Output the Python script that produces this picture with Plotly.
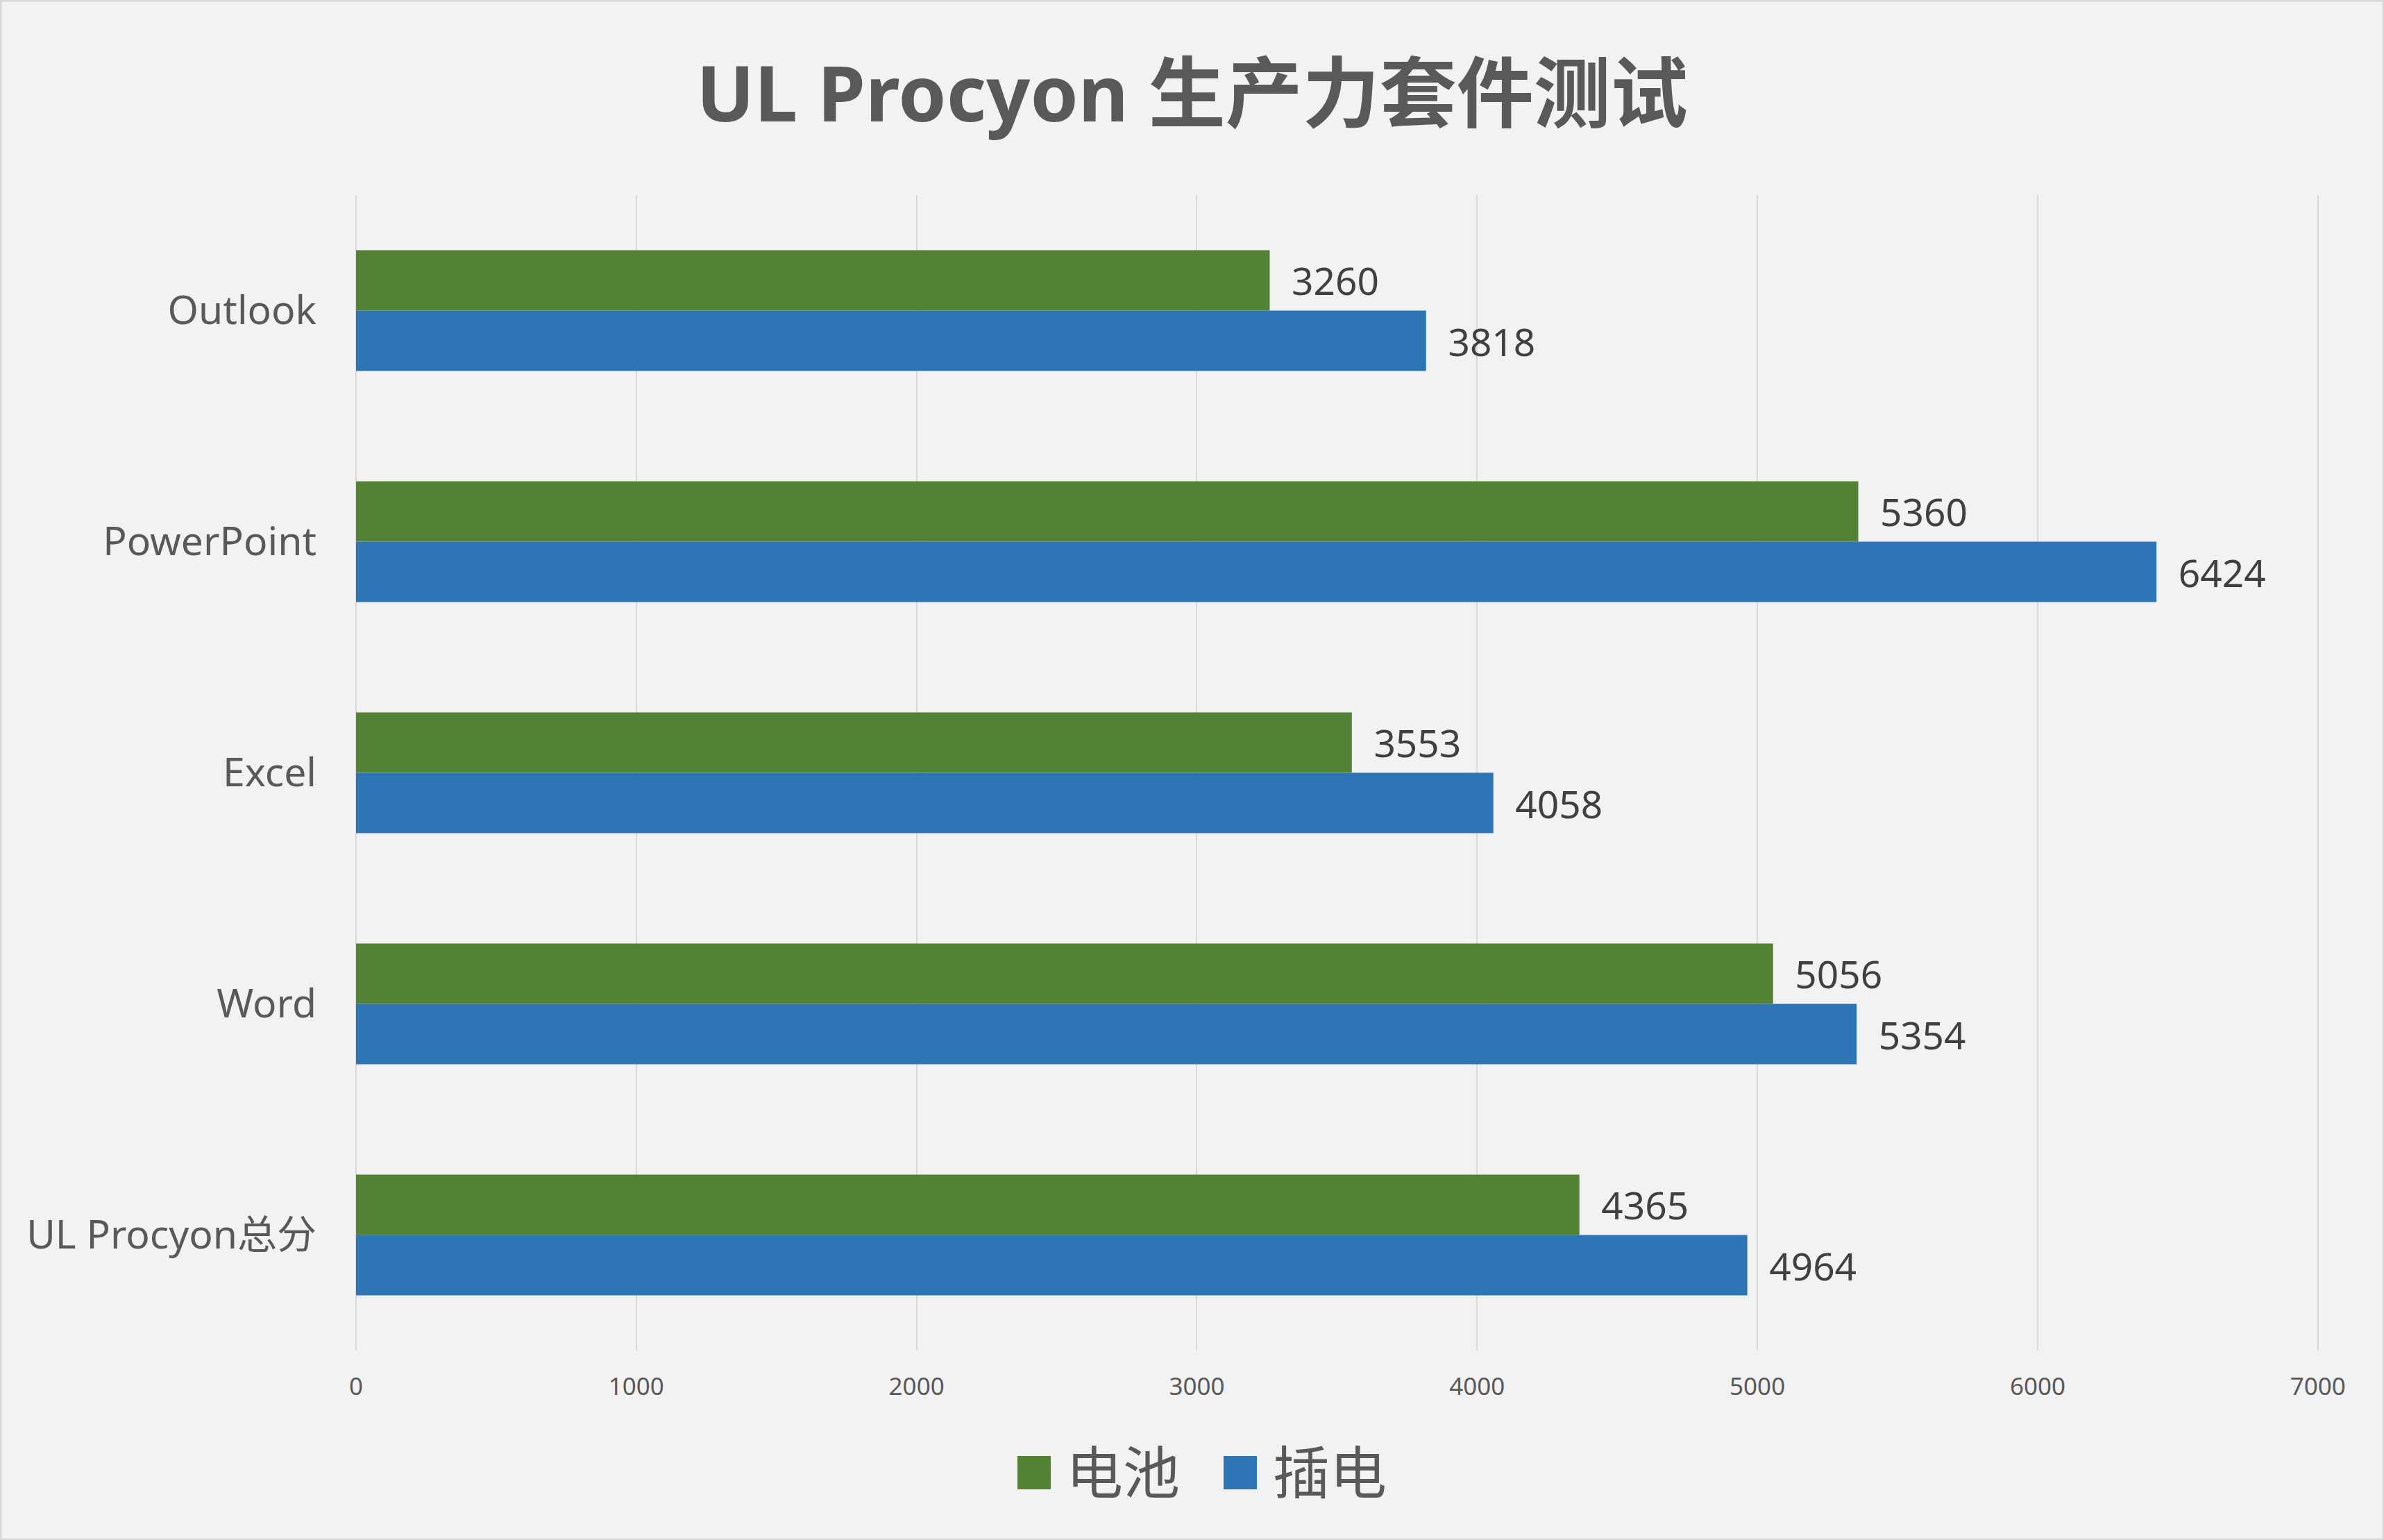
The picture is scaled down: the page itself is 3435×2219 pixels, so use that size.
"""
UL Procyon productivity suite - battery vs plugged-in scores
"""

import plotly.graph_objects as go

categories = ['Outlook', 'PowerPoint', 'Excel', 'Word', 'UL Procyon总分']
battery = [3260, 5360, 3553, 5056, 4365]
plugged = [3818, 6424, 4058, 5354, 4964]
series_names = ['电池', '插电']
x_ticks = [0, 1000, 2000, 3000, 4000, 5000, 6000, 7000]

W, H = 3435, 2219
L, R, T, B = 513, 3341, 281, 1946

GREEN = '#548235'
BLUE = '#2E75B6'
TEXT = '#595959'
FONT = 'Noto Sans, Noto Sans CJK SC, sans-serif'


def px_x(p):
    # pixel -> paper x
    return (p - L) / (R - L)


def px_y(p):
    # pixel -> paper y
    return (B - p) / (B - T)


fig = go.Figure()

for name, vals, color in zip(series_names, [battery, plugged], [GREEN, BLUE]):
    fig.add_trace(go.Bar(
        y=categories,
        x=vals,
        name=name,
        orientation='h',
        marker=dict(color=color, line=dict(width=0)),
        text=[str(v) for v in vals],
        texttemplate='\u00a0\u00a0%{text}',
        textposition='outside',
        constraintext='none',
        cliponaxis=False,
        textfont=dict(size=55, color='#404040', family=FONT),
        showlegend=False,
        hoverinfo='skip',
    ))

# legend drawn by hand: plotly caps legend symbol size
shapes = []
annotations = []
for name, color, sq_left, txt_left in zip(series_names, [GREEN, BLUE],
                                          [1466, 1763], [1534, 1832]):
    shapes.append(dict(
        type='rect', xref='paper', yref='paper',
        x0=px_x(sq_left), x1=px_x(sq_left + 48),
        y0=px_y(2146), y1=px_y(2098),
        fillcolor=color, line=dict(width=0),
    ))
    annotations.append(dict(
        xref='paper', yref='paper',
        x=px_x(txt_left), y=px_y(2120),
        xanchor='left', yanchor='middle',
        text=name, showarrow=False,
        font=dict(size=82, color=TEXT, family=FONT),
    ))

# thin chart border
shapes.append(dict(
    type='rect', xref='paper', yref='paper',
    x0=px_x(1), x1=px_x(W - 1), y0=px_y(H - 1), y1=px_y(1),
    line=dict(color='#D9D9D9', width=3), fillcolor='rgba(0,0,0,0)',
    layer='below',
))

fig.update_layout(
    width=W,
    height=H,
    paper_bgcolor='#F2F2F2',
    plot_bgcolor='#F2F2F2',
    margin=dict(l=L, r=W - R, t=T, b=H - B, autoexpand=False),
    barmode='group',
    bargap=0.477,
    bargroupgap=0,
    title=dict(
        text='<b>UL Procyon 生产力套件测试</b>',
        x=0.5,
        xref='container',
        xanchor='center',
        y=1 - 136 / H,
        yref='container',
        yanchor='middle',
        font=dict(size=111, color=TEXT, family=FONT),
    ),
    xaxis=dict(
        # tiny overshoot so the 7000 gridline isn't clipped at the edge
        range=[0, 7003],
        tickvals=x_ticks,
        ticktext=[str(v) for v in x_ticks],
        showgrid=True,
        gridcolor='#D9D9D9',
        gridwidth=2,
        zeroline=True,
        zerolinecolor='#D9D9D9',
        zerolinewidth=2,
        showline=False,
        ticks='',
        ticklabelstandoff=28,
        tickfont=dict(size=35, color=TEXT, family=FONT),
    ),
    yaxis=dict(
        categoryorder='array',
        categoryarray=categories,
        autorange='reversed',
        showgrid=False,
        zeroline=False,
        showline=False,
        ticks='',
        ticklabelstandoff=56,
        tickfont=dict(size=57, color=TEXT, family=FONT),
    ),
    showlegend=False,
    shapes=shapes,
    annotations=annotations,
)

# NOTE: default page body has an 8px margin, which shifts the whole chart
fig.write_html(
    'out.html',
    config={'displayModeBar': False},
    post_script="document.body.style.margin='0';"
                "document.body.style.background='#F2F2F2';",
)
